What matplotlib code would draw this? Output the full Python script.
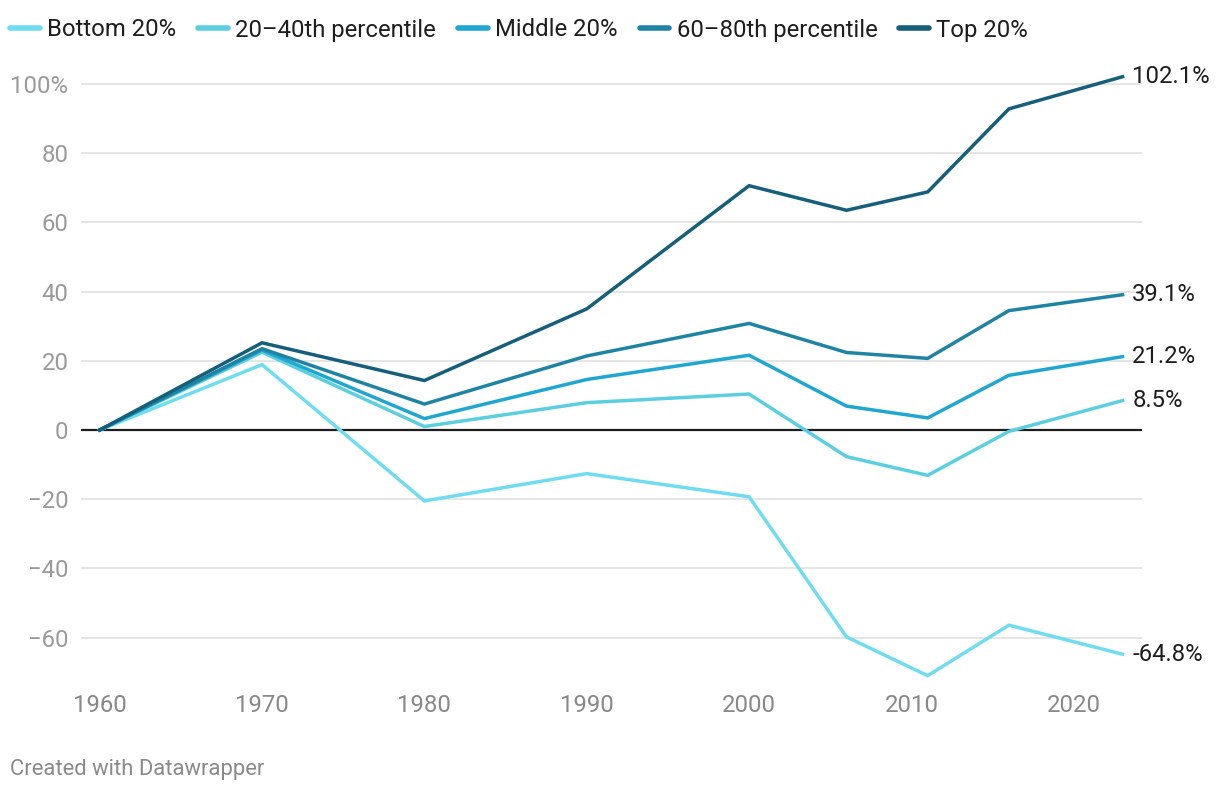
import matplotlib
matplotlib.use("Agg")
import matplotlib.pyplot as plt

years = [1960, 1970, 1980, 1990, 2000, 2006, 2011, 2016, 2023]
series_names = ["Bottom 20%", "20\u201340th percentile", "Middle 20%", "60\u201380th percentile", "Top 20%"]
bottom20 = [0, 18.9, -20.5, -12.6, -19.3, -59.8, -71.0, -56.4, -64.8]
pct20_40 = [0, 22.5, 1.0, 7.9, 10.4, -7.7, -13.1, -0.4, 8.5]
middle20 = [0, 23.1, 3.3, 14.6, 21.6, 6.9, 3.5, 15.8, 21.2]
pct60_80 = [0, 23.5, 7.5, 21.4, 30.8, 22.4, 20.7, 34.5, 39.1]
top20 = [0, 25.2, 14.3, 35.0, 70.6, 63.5, 68.8, 92.8, 102.1]
end_labels = ["-64.8%", "8.5%", "21.2%", "39.1%", "102.1%"]
colors = ["#6fdcef", "#5bcfe0", "#1fa6d1", "#1f83a3", "#155f7b"]
yticks = [-60, -40, -20, 0, 20, 40, 60, 80, 100]
ytick_labels = ["\u221260", "\u221240", "\u221220", "0", "20", "40", "60", "80", "100%"]
xticks = [1960, 1970, 1980, 1990, 2000, 2010, 2020]

plt.rcParams['font.family'] = ['Roboto', 'DejaVu Sans']
FS = 17.2

fig = plt.figure(figsize=(12.2, 7.94), dpi=100)
ax = fig.add_axes([81/1220, 1-682.6/794, (1142-81)/1220, (682.6-73.6)/794])

all_series = [bottom20, pct20_40, middle20, pct60_80, top20]
for name, vals, c, lab in zip(series_names, all_series, colors, end_labels):
    ax.plot(years, vals, color=c, lw=2.5, label=name, solid_joinstyle='miter', zorder=3)
    ax.annotate(lab, (years[-1], vals[-1]), xytext=(7, 0), textcoords='offset points',
                va='center', ha='left', fontsize=FS, color='#1d1d1d', annotation_clip=False)

ax.set_xlim(1958.85, 2024.2)
ax.set_ylim(-73, 103)
ax.set_yticks(yticks)
ax.set_yticklabels(ytick_labels)
ax.set_xticks(xticks)
ax.grid(axis='y', color='#e3e3e3', lw=1.3, zorder=0)
ax.axhline(0, color='#1d1d1d', lw=1.6, zorder=2)
for s in ax.spines.values():
    s.set_visible(False)
ax.tick_params(axis='both', length=0, labelsize=FS, colors='#9a9a9a')
ax.tick_params(axis='y', pad=9)
ax.tick_params(axis='x', pad=8.5)
for t in ax.get_xticklabels():
    t.set_color('#888888')

leg = fig.legend(loc='center left', bbox_to_anchor=(3/1220, 1-30/794), ncol=5, frameon=False,
                 handlelength=1.25, handletextpad=0.3, columnspacing=0.92,
                 fontsize=FS, borderaxespad=0.0, borderpad=0.3)
for line in leg.get_lines():
    line.set_linewidth(4)
    line.set_solid_capstyle('round')
for t in leg.get_texts():
    t.set_color('#1d1d1d')

fig.text(10/1220, 1-769/794, "Created with Datawrapper", fontsize=15.8, color='#8a8a8a',
         ha='left', va='center')

fig.savefig("out.png", dpi=100)
